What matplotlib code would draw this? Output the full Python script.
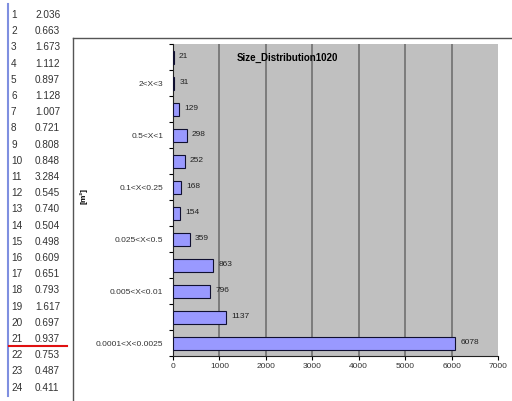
import matplotlib.pyplot as plt
from matplotlib.lines import Line2D
import numpy as np

plt.rcParams['font.family'] = ['Liberation Sans', 'DejaVu Sans']

# worksheet column shown next to the chart
row_ids = list(range(1, 25))
row_vals = ['2.036', '0.663', '1.673', '1.112', '0.897', '1.128', '1.007', '0.721',
            '0.808', '0.848', '3.284', '0.545', '0.740', '0.504', '0.498', '0.609',
            '0.651', '0.793', '1.617', '0.697', '0.937', '0.753', '0.487', '0.411']

# size classes (only every other label is printed on the axis)
class_labels = ['', '2<X<3', '', '0.5<X<1', '', '0.1<X<0.25', '',
                '0.025<X<0.5', '', '0.005<X<0.01', '', '0.0001<X<0.0025']
counts = [21, 31, 129, 298, 252, 168, 154, 359, 863, 796, 1137, 6078]

W, H = 512, 401
fig = plt.figure(figsize=(W / 100, H / 100), dpi=100)

# spreadsheet cells
for i, (n, v) in enumerate(zip(row_ids, row_vals)):
    y = 1 - (15 + i * 16.2) / H
    fig.text(11 / W, y, str(n), fontsize=7.2, color='#333333', va='center', ha='left')
    fig.text(35 / W, y, v, fontsize=7.2, color='#333333', va='center', ha='left')
fig.add_artist(Line2D([8 / W, 8 / W], [1 - 4 / H, 1 - 396 / H], color='#7f8fe0', lw=1.5))
fig.add_artist(Line2D([9 / W, 67 / W], [1 - 346 / H, 1 - 346 / H], color='#e01010', lw=1.5))

# chart frame
fig.add_artist(Line2D([73 / W, 1.0], [1 - 38 / H, 1 - 38 / H], color='#555555', lw=1.0))
fig.add_artist(Line2D([73 / W, 73 / W], [1 - 38 / H, 0.0], color='#555555', lw=1.0))

ax = fig.add_axes([173 / W, 1 - 356 / H, 325 / W, 312 / H])
ax.set_facecolor('#c0c0c0')
y = np.arange(len(counts))
ax.barh(y, counts, height=0.5, color='#9999ff', edgecolor='#101030', linewidth=0.8, zorder=3)
for yi, c in zip(y, counts):
    ax.text(c + 110, yi, str(c), fontsize=6, va='center', ha='left', color='#222222', zorder=4)

ax.set_xlim(0, 7000)
ax.set_ylim(len(counts) - 0.5, -0.5)
ax.set_xticks(np.arange(0, 7001, 1000))
ax.tick_params(axis='x', labelsize=6, length=3, direction='out', pad=2, labelcolor='#333333')
ax.set_yticks(np.arange(-0.5, len(counts), 1))
ax.set_yticklabels([])
ax.set_yticks(y, minor=True)
ax.set_yticklabels(class_labels, minor=True, fontsize=6, color='#333333')
ax.tick_params(axis='y', which='major', length=3, direction='out')
ax.tick_params(axis='y', which='minor', length=0, pad=7)
for gx in range(1000, 7000, 1000):
    ax.axvline(gx, color='#707070', lw=1.2, zorder=1)
for s in ['top', 'right']:
    ax.spines[s].set_visible(False)
ax.spines['left'].set_color('#222222')
ax.spines['bottom'].set_color('#222222')

ax.text(0.197, 0.955, 'Size_Distribution1020', transform=ax.transAxes, fontsize=7,
        fontweight='bold', va='center', ha='left')
fig.text(84 / W, 1 - 196 / H, '[m²]', rotation=90, fontsize=6, fontweight='bold',
         va='center', ha='center')

fig.savefig('out.png', dpi=100)
